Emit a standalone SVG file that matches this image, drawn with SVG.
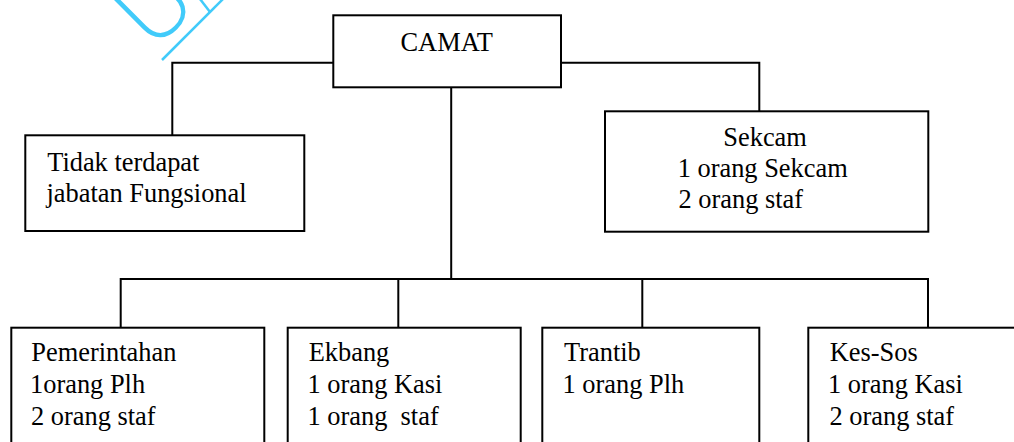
<svg xmlns="http://www.w3.org/2000/svg" width="1014" height="442" viewBox="0 0 1014 442">
  <style>
    .box { fill: #ffffff; stroke: #000000; stroke-width: 2; }
    .conn { fill: none; stroke: #000000; stroke-width: 2; }
    .lbl { font-family: "Liberation Serif", "Times New Roman", serif; font-size: 26.4px; fill: #000000; }
    .wm { font-family: "Open Sans", "Liberation Sans", sans-serif; font-weight: 300; font-size: 91px; fill: #41CBFA; }
    .wml { fill: none; stroke: #41CBFA; stroke-width: 2.5; }
  </style>
  <rect x="0" y="0" width="1014" height="442" fill="#ffffff"/>

  <g id="watermark">
    <text class="wm" transform="translate(153.4,51.6) rotate(-45)" x="0" y="0">U</text>
    <path class="wml" d="M162,60 L230,-8"/>
    <path class="wml" d="M200,-1 L210,12" stroke-width="4"/>
  </g>

  <g id="connectors">
    <path class="conn" d="M333.3,62.7 H172.3 V135.3"/>
    <path class="conn" d="M561,62.7 H759.3 V111.3"/>
    <path class="conn" d="M451.2,87.3 V279"/>
    <path class="conn" d="M120.7,327.7 V279 H928 V327.7"/>
    <path class="conn" d="M398.3,279 V327.7"/>
    <path class="conn" d="M642.3,279 V327.7"/>
  </g>

  <g id="camat">
    <rect class="box" x="333.3" y="15.3" width="227.7" height="72"/>
    <text class="lbl" x="446.7" y="51" text-anchor="middle">CAMAT</text>
  </g>

  <g id="fungsional">
    <rect class="box" x="25.3" y="135.3" width="279" height="95.7"/>
    <text class="lbl" x="47.2" y="170.7">Tidak terdapat</text>
    <text class="lbl" x="46.5" y="201.7">jabatan Fungsional</text>
  </g>

  <g id="sekcam">
    <rect class="box" x="605" y="111.3" width="323.3" height="120.4"/>
    <text class="lbl" x="723.3" y="145.7">Sekcam</text>
    <text class="lbl" x="677.7" y="176.9">1 orang Sekcam</text>
    <text class="lbl" x="678.5" y="208.3">2 orang staf</text>
  </g>

  <g id="pemerintahan">
    <rect class="box" x="11.3" y="327.7" width="253" height="140"/>
    <text class="lbl" x="31.3" y="361.3">Pemerintahan</text>
    <text class="lbl" x="30" y="393">1orang Plh</text>
    <text class="lbl" x="31" y="424.7">2 orang staf</text>
  </g>

  <g id="ekbang">
    <rect class="box" x="287.7" y="327.7" width="233" height="140"/>
    <text class="lbl" x="308.7" y="361.3">Ekbang</text>
    <text class="lbl" x="307.5" y="393">1 orang Kasi</text>
    <text class="lbl" x="307.5" y="424.7" xml:space="preserve">1 orang  staf</text>
  </g>

  <g id="trantib">
    <rect class="box" x="542.3" y="327.7" width="217" height="140"/>
    <text class="lbl" x="564" y="361.3">Trantib</text>
    <text class="lbl" x="562.5" y="393">1 orang Plh</text>
  </g>

  <g id="kessos">
    <rect class="box" x="808.3" y="327.7" width="240" height="140"/>
    <text class="lbl" x="829.7" y="361.3">Kes-Sos</text>
    <text class="lbl" x="828" y="393">1 orang Kasi</text>
    <text class="lbl" x="829.5" y="424.7">2 orang staf</text>
  </g>
</svg>
